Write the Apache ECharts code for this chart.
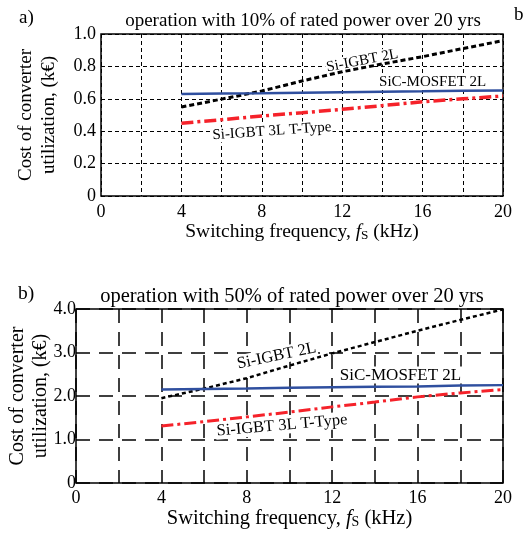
<!DOCTYPE html>
<html>
<head>
<meta charset="utf-8">
<script src="https://cdn.jsdelivr.net/npm/echarts@6/dist/echarts.min.js"></script>
<style>
  html, body { margin: 0; padding: 0; background: #fff; }
  #chart { width: 527px; height: 534px; }
</style>
</head>
<body>
<div id="chart"></div>
<script>
// switching frequency (kHz)
const freq = [4, 6, 8, 10, 12, 14, 16, 18, 20];

// a) 10% rated power, cost in k€
const aIgbt2L = [0.549, 0.598, 0.648, 0.71, 0.767, 0.815, 0.86, 0.91, 0.959];
const aSic2L = [0.630, 0.633, 0.635, 0.638, 0.641, 0.644, 0.646, 0.649, 0.652];
const aIgbt3L = [0.449, 0.471, 0.494, 0.514, 0.535, 0.558, 0.582, 0.600, 0.617];

// b) 50% rated power, cost in k€
const bIgbt2L = [1.95, 2.17, 2.41, 2.70, 2.98, 3.24, 3.50, 3.75, 3.99];
const bSic2L = [2.15, 2.16, 2.17, 2.19, 2.20, 2.21, 2.22, 2.24, 2.25];
const bIgbt3L = [1.31, 1.41, 1.52, 1.63, 1.75, 1.86, 1.98, 2.07, 2.15];

const seriesNames = ['Si-IGBT 2L', 'SiC-MOSFET 2L', 'Si-IGBT 3L T-Type'];
const titleA = 'operation with 10% of rated power over 20 yrs';
const titleB = 'operation with 50% of rated power over 20 yrs';

const FONT = '"Liberation Serif", "Times New Roman", serif';

function pairs(ys) {
  return freq.map((f, i) => [f, ys[i]]);
}

function yLabel(v) {
  return v === 0 ? '0' : v.toFixed(1);
}

function xNameStyle(size) {
  return {
    fontFamily: FONT, fontSize: size, color: '#000', verticalAlign: 'top',
    rich: {
      n: { fontFamily: FONT, fontSize: size, color: '#000' },
      f: { fontFamily: FONT, fontSize: size, color: '#000', fontStyle: 'italic' },
      s: { fontFamily: FONT, fontSize: size * 0.68, color: '#000', padding: [8, 0, 0, 0] }
    }
  };
}

const chart = echarts.init(document.getElementById('chart'));

const xName = '{n|Switching frequency, }{f|f}{s|S}{n| (kHz)}';
const yName = 'Cost of converter\nutilization, (k€)';
const tickFont = { fontFamily: FONT, fontSize: 18, color: '#000' };
const plain = (size) => ({ fontFamily: FONT, fontSize: size, fontWeight: 'normal', color: '#000' });

const dashA = { color: '#000', width: 1, type: [4, 3] };
const dashB = { color: '#000', width: 1.5, type: [14, 9] };

chart.setOption({
  animation: false,
  title: [
    { text: titleA, left: 298, top: 7, textAlign: 'center', textStyle: plain(19) },
    { text: titleB, left: 287, top: 281, textAlign: 'center', textStyle: plain(20.5) },
    { text: 'a)', left: 14, top: 4, textStyle: plain(19) },
    { text: 'b)', left: 13, top: 279, textStyle: plain(19.5) },
    { text: 'b', left: 509, top: 1, textStyle: plain(19) }
  ],
  grid: [
    { left: 101, right: 24, top: 34, height: 162, outerBoundsMode: 'none',
      show: true, borderColor: '#000', borderWidth: 1.5, backgroundColor: 'transparent' },
    { left: 76, right: 24, top: 309, height: 174, outerBoundsMode: 'none',
      show: true, borderColor: '#000', borderWidth: 1.5, backgroundColor: 'transparent' }
  ],
  xAxis: [
    { type: 'value', gridIndex: 0, min: 0, max: 20, interval: 4,
      axisLine: { show: false }, axisTick: { show: false },
      axisLabel: Object.assign({ margin: 7 }, tickFont),
      splitLine: { show: false },
      name: xName, nameLocation: 'middle', nameGap: 24, nameTextStyle: xNameStyle(19.5) },
    { type: 'value', gridIndex: 0, min: 0, max: 20, interval: 2,
      axisLine: { show: false }, axisTick: { show: false }, axisLabel: { show: false },
      splitLine: { show: true, lineStyle: dashA } },
    { type: 'value', gridIndex: 1, min: 0, max: 20, interval: 4,
      axisLine: { show: false }, axisTick: { show: false },
      axisLabel: Object.assign({ margin: 6 }, tickFont),
      splitLine: { show: false },
      name: xName, nameLocation: 'middle', nameGap: 24, nameTextStyle: xNameStyle(20.5) },
    { type: 'value', gridIndex: 1, min: 0, max: 20, interval: 2,
      axisLine: { show: false }, axisTick: { show: false }, axisLabel: { show: false },
      splitLine: { show: true, lineStyle: dashB } }
  ],
  yAxis: [
    { type: 'value', gridIndex: 0, min: 0, max: 1, interval: 0.2,
      axisLine: { show: false }, axisTick: { show: false },
      axisLabel: Object.assign({ margin: 5, formatter: yLabel }, tickFont),
      splitLine: { show: true, lineStyle: dashA },
      name: yName, nameLocation: 'middle', nameGap: 40, nameRotate: 90, nameMoveOverlap: false,
      nameTextStyle: { fontFamily: FONT, fontSize: 19, color: '#000', lineHeight: 23 } },
    { type: 'value', gridIndex: 1, min: 0, max: 4, interval: 1,
      axisLine: { show: false }, axisTick: { show: false },
      axisLabel: Object.assign({ margin: 0, formatter: yLabel }, tickFont),
      splitLine: { show: true, lineStyle: dashB },
      name: yName, nameLocation: 'middle', nameGap: 24, nameRotate: 90, nameMoveOverlap: false,
      nameTextStyle: { fontFamily: FONT, fontSize: 20, color: '#000', lineHeight: 23 } }
  ],
  series: [
    { name: seriesNames[0], type: 'line', xAxisIndex: 0, yAxisIndex: 0, data: pairs(aIgbt2L),
      symbol: 'none', lineStyle: { color: '#000', width: 3, type: [5, 3] } },
    { name: seriesNames[1], type: 'line', xAxisIndex: 0, yAxisIndex: 0, data: pairs(aSic2L),
      symbol: 'none', lineStyle: { color: '#2f4f9f', width: 2.5 } },
    { name: seriesNames[2], type: 'line', xAxisIndex: 0, yAxisIndex: 0, data: pairs(aIgbt3L),
      symbol: 'none', lineStyle: { color: '#f5222a', width: 3.5, type: [12, 4, 3, 4] } },
    { name: seriesNames[0], type: 'line', xAxisIndex: 2, yAxisIndex: 1, data: pairs(bIgbt2L),
      symbol: 'none', lineStyle: { color: '#000', width: 2.5, type: [4, 3] } },
    { name: seriesNames[1], type: 'line', xAxisIndex: 2, yAxisIndex: 1, data: pairs(bSic2L),
      symbol: 'none', lineStyle: { color: '#2f4f9f', width: 2.5 } },
    { name: seriesNames[2], type: 'line', xAxisIndex: 2, yAxisIndex: 1, data: pairs(bIgbt3L),
      symbol: 'none', lineStyle: { color: '#f5222a', width: 3, type: [12, 4, 3, 4] } }
  ]
});

// curve annotations, placed in data coordinates
const notes = [
  { grid: 0, at: [13.0, 0.835], text: seriesNames[0], angle: 11, size: 15 },
  { grid: 0, at: [16.5, 0.705], text: seriesNames[1], angle: 0, size: 15 },
  { grid: 0, at: [8.5, 0.40], text: seriesNames[2], angle: 4, size: 15 },
  { grid: 1, at: [9.4, 2.92], text: seriesNames[0], angle: 12, size: 16.5 },
  { grid: 1, at: [15.2, 2.48], text: seriesNames[1], angle: 0, size: 17 },
  { grid: 1, at: [9.65, 1.32], text: seriesNames[2], angle: 5, size: 16.5 }
];
chart.setOption({
  graphic: notes.map(n => {
    const p = chart.convertToPixel({ gridIndex: n.grid }, n.at);
    return {
      type: 'text', x: p[0], y: p[1], z: 1, rotation: n.angle * Math.PI / 180,
      style: { text: n.text, font: n.size + 'px ' + FONT, fill: '#000', align: 'center', verticalAlign: 'middle',
        backgroundColor: '#fff', padding: [0, 1] }
    };
  })
});
</script>
</body>
</html>
